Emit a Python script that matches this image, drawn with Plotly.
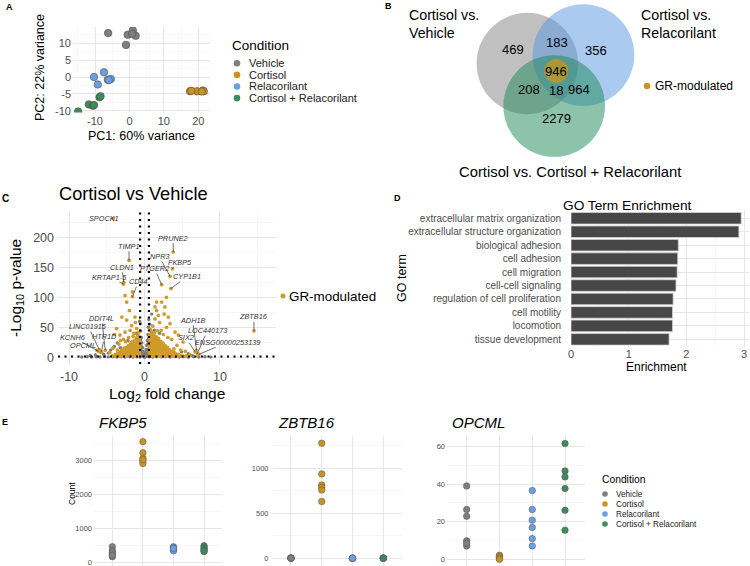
import plotly.graph_objects as go

W, H = 750, 566
FONT = "Liberation Sans"
TXT = "#4D4D4D"
GRID = "#E6E6E6"
GRID_MINOR = "#F1F1F1"

# ---------------- DATA ----------------
conditions = ["Vehicle", "Cortisol", "Relacorilant", "Cortisol + Relacorilant"]
cond_colors = ["#7F7F7F", "#C99324", "#6A9FE0", "#3F8A5C"]

# Panel A - PCA
pc1_vehicle = [-6.2, -0.5, 1.0, 1.8, -1.0, 0.8]
pc2_vehicle = [13.0, 12.5, 13.8, 12.2, 9.5, 12.8]
pc1_cortisol = [17.6, 19.6, 21.3, 21.6, 18.0, 21.0]
pc2_cortisol = [-4.2, -4.2, -4.0, -4.2, -4.1, -4.3]
pc1_rela = [-7.4, -10.3, -9.2, -6.3, -5.4, -6.0]
pc2_rela = [1.4, 0.0, -2.2, -0.8, -0.6, -0.9]
pc1_combo = [-14.9, -11.8, -10.6, -10.3, -8.7, -8.4]
pc2_combo = [-10.2, -8.1, -8.5, -8.3, -6.0, -5.7]

# Panel B - Venn counts
venn_counts = [469, 183, 356, 946, 208, 18, 964, 2279]
venn_sets = ["Cortisol vs.<br>Vehicle", "Cortisol vs.<br>Relacorilant",
             "Cortisol vs. Cortisol + Relacorilant"]

# Panel C - volcano (log2 fold change, -log10 p)
gene_names = ["SPOCK1", "PRUNE2", "TIMP1", "NPR3", "FKBP5", "CLDN1", "KRTAP1-5", "CD44",
              "PTGER2", "CYP1B1", "ZBTB16", "ADH1B", "LOC440173", "SIX2",
              "ENSG00000253139", "DDIT4L", "LINC01915", "KCNH6", "HTR1D", "OPCML"]
gene_lfc = [-4.13, 3.8, -2.05, 3.38, 3.69, -2.75, -2.8, -1.6, 2.27, 3.5, 14.5, 6.9,
            7.0, 6.7, 7.2, -5.2, -6.0, -6.3, -5.7, -6.1]
gene_logp = [231, 175.5, 161.7, 135, 147.8, 125, 122, 101, 121, 114.5, 43.9, 11.7,
             6, 9, 5, 11.7, 12.8, 11.7, 9, 10]

gr_points = [
    (-0.64, 2.0), (-0.66, 5.5), (-0.65, 9.1), (-0.67, 12.4), (-0.64, 16.0), (-0.68, 19.6), (-0.66, 23.1), (-0.69, 27.0), (-0.71, 31.2), (-0.73, 35.0),
    (-0.88, 1.8), (-0.91, 4.7), (-0.89, 8.2), (-0.93, 11.6), (-0.9, 15.1), (-0.94, 18.8), (-0.92, 22.3), (-0.95, 26.1), (-0.97, 29.7),
    (-1.18, 2.3), (-1.21, 6.0), (-1.19, 9.4), (-1.23, 13.1), (-1.2, 16.6), (-1.24, 20.2), (-1.22, 24.4), (-1.27, 28.1),
    (-1.48, 1.6), (-1.51, 5.2), (-1.49, 8.8), (-1.53, 12.3), (-1.5, 15.8), (-1.54, 19.4), (-1.52, 23.0), (-1.56, 26.4),
    (-1.78, 2.5), (-1.81, 6.1), (-1.79, 9.6), (-1.83, 13.2), (-1.8, 16.8), (-1.84, 20.1), (-1.86, 24.2),
    (-2.08, 1.9), (-2.11, 5.5), (-2.09, 9.1), (-2.13, 12.6), (-2.1, 16.2), (-2.14, 19.5),
    (-2.38, 2.2), (-2.41, 5.8), (-2.39, 9.3), (-2.43, 12.9), (-2.4, 16.4),
    (-2.68, 1.7), (-2.71, 5.1), (-2.69, 8.7), (-2.73, 12.2), (-2.72, 15.3),
    (-2.98, 2.4), (-3.01, 6.0), (-2.99, 9.5), (-3.03, 12.1),
    (-3.28, 1.9), (-3.31, 5.4), (-3.29, 8.6),
    (-3.58, 2.6), (-3.61, 6.2), (-3.88, 1.8), (-3.91, 4.5), (-4.25, 2.5),
    (-2.58, 103), (-2.36, 92), (-1.6, 109), (-3.0, 67), (-2.36, 62), (-1.26, 67), (-1.7, 53),
    (-3.7, 48), (-4.0, 38), (-3.25, 37), (-2.58, 42), (-1.03, 48), (-1.4, 40), (-2.1, 33),
    (-0.9, 37), (-1.9, 45), (-2.8, 30), (-3.4, 22), (-4.2, 15), (-4.6, 8), (-2.0, 78),
    (-1.2, 58), (-3.2, 28), (-0.75, 42), (-1.5, 35), (-2.5, 26), (-3.6, 12), (-1.1, 32),
    (0.64, 2.0), (0.66, 5.4), (0.65, 8.9), (0.67, 12.5), (0.64, 16.0), (0.68, 19.6), (0.66, 23.2), (0.69, 27.0), (0.67, 30.8), (0.7, 34.5), (0.72, 38.1),
    (0.88, 1.7), (0.91, 5.1), (0.89, 8.6), (0.93, 12.1), (0.9, 15.6), (0.94, 19.2), (0.92, 22.8), (0.95, 26.3), (0.93, 29.9), (0.96, 33.6), (0.98, 37.0),
    (1.18, 2.3), (1.21, 5.9), (1.19, 9.5), (1.23, 13.0), (1.2, 16.6), (1.24, 20.2), (1.22, 23.7), (1.25, 27.4), (1.23, 31.0), (1.27, 35.0),
    (1.48, 1.9), (1.51, 5.6), (1.49, 9.2), (1.53, 12.8), (1.5, 16.3), (1.54, 19.9), (1.52, 23.5), (1.55, 27.1), (1.53, 30.5), (1.57, 34.2),
    (1.78, 2.4), (1.81, 6.0), (1.79, 9.6), (1.83, 13.1), (1.8, 16.7), (1.84, 20.3), (1.82, 23.8), (1.85, 27.5), (1.87, 31.0),
    (2.08, 1.8), (2.11, 5.3), (2.09, 8.9), (2.13, 12.4), (2.1, 16.0), (2.14, 19.6), (2.12, 23.1), (2.16, 26.5),
    (2.38, 2.1), (2.41, 5.7), (2.39, 9.3), (2.43, 12.9), (2.4, 16.4), (2.44, 20.0), (2.46, 23.5),
    (2.68, 1.6), (2.71, 5.2), (2.69, 8.8), (2.73, 12.3), (2.7, 15.9), (2.74, 19.3),
    (2.98, 2.2), (3.01, 5.8), (2.99, 9.4), (3.03, 12.9), (3.05, 16.3),
    (3.28, 1.9), (3.31, 5.5), (3.29, 9.0), (3.33, 12.5),
    (3.58, 2.5), (3.61, 6.0), (3.63, 9.6), (3.88, 1.8), (3.91, 5.3), (3.93, 8.4),
    (4.18, 2.3), (4.21, 5.6), (4.48, 1.7), (4.52, 4.4), (4.8, 2.4), (5.1, 1.8), (5.5, 2.2),
    (1.39, 84), (1.6, 78), (2.28, 92), (2.7, 84), (1.83, 70), (3.15, 67), (3.38, 56), (1.39, 64),
    (4.04, 42), (4.48, 37), (5.1, 25.5), (2.2, 45), (2.9, 50), (1.1, 52), (3.6, 30), (4.3, 20),
    (1.7, 44), (2.5, 38), (0.8, 46), (3.9, 14), (5.4, 10), (6.0, 4), (4.8, 12), (2.0, 58),
    (2.9, 100), (1.6, 92), (2.6, 72), (3.1, 33), (1.3, 40), (0.95, 42),
]
ns_points = [
    (0.0, 0.2), (-0.05, 1.5), (0.08, 3.0), (-0.12, 5.0), (0.15, 7.5), (-0.2, 10.0), (0.22, 13.0),
    (-0.28, 16.0), (0.3, 20.0), (-0.35, 24.0), (0.38, 28.0), (-0.42, 33.0), (0.45, 38.0),
    (-0.5, 44.0), (0.52, 50.0), (-0.55, 56.0), (0.57, 63.0), (-0.3, 4.0), (0.3, 5.0), (-0.45, 8.0),
    (0.45, 9.0), (-0.55, 12.0), (0.56, 14.0), (-0.1, 2.0), (0.1, 1.0), (0.2, 3.0), (-0.25, 2.5),
    (0.35, 2.0), (-0.4, 18), (0.48, 24), (-0.52, 29), (0.5, 31),
    (-8.3, 0.4), (-7.6, 0.9), (-7.0, 0.3), (-6.4, 0.8), (-5.9, 0.5), (-5.3, 1.1), (-4.8, 0.6),
    (-4.2, 0.9), (-3.7, 0.4), (-3.1, 1.0), (-2.6, 0.5), (-2.0, 0.8), (-1.5, 0.3), (-1.0, 0.9),
    (-0.6, 0.5), (0.6, 0.7), (1.1, 0.4), (1.6, 1.0), (2.2, 0.6), (2.8, 0.9), (3.4, 0.3), (4.0, 0.8),
    (4.6, 0.5), (5.2, 1.0), (5.8, 0.4), (6.5, 0.8), (7.2, 0.5), (8.0, 0.9), (8.8, 0.3),
    (-4.5, 12), (-4.0, 18), (-3.6, 24), (-4.8, 7), (-5.4, 5), (-3.2, 16), (0.7, 55), (-0.65, 60),
    (0.95, 72), (1.3, 45), (-1.1, 40), (5.8, 6), (6.3, 3), (4.9, 9), (-6.5, 4), (-7.2, 3),
    (-5.8, 8), (2.0, 40), (-2.2, 28),
]
lfc_cutoff = 0.585
p_cutoff = 1.3

# Panel D - GO enrichment
go_terms = ["extracellular matrix organization", "extracellular structure organization",
            "biological adhesion", "cell adhesion", "cell migration", "cell-cell signaling",
            "regulation of cell proliferation", "cell motility", "locomotion", "tissue development"]
go_enrichment = [2.95, 2.91, 1.86, 1.85, 1.84, 1.82, 1.77, 1.76, 1.76, 1.70]

# Panel E - counts per condition
fkbp5_vehicle = [472, 354, 256, 177, 300, 220]
fkbp5_cortisol = [3560, 3235, 3070, 2990, 2920, 3030]
fkbp5_rela = [470, 440, 400, 370, 350, 420]
fkbp5_combo = [500, 460, 420, 380, 330, 350]
zbtb16_vehicle = [2, 1, 3, 0, 1, 2]
zbtb16_cortisol = [1278, 937, 815, 789, 759, 630]
zbtb16_rela = [1, 0, 2, 1, 0, 1]
zbtb16_combo = [3, 2, 1, 2, 0, 1]
opcml_vehicle = [39.1, 26.5, 22.9, 9.8, 7.1, 8.5]
opcml_cortisol = [2.1, 1.2, 0.3, 1.6, 0.8, 0.0]
opcml_rela = [36.6, 26.5, 20.8, 16.9, 11.0, 7.1]
opcml_combo = [61.7, 47.1, 43.9, 37.7, 26.1, 15.5]

# ---------------- HELPERS ----------------
def px(x):
    return x / W


def py(y):
    return 1 - y / H


def dom_x(a, b):
    return [px(a), px(b)]


def dom_y(top, bottom):
    return [py(bottom), py(top)]


def txt(s, x, y, size, color="black", xanchor="center", yanchor="middle", angle=0, **kw):
    return dict(text=s, x=px(x), y=py(y), xref="paper", yref="paper", showarrow=False,
                font=dict(size=size, color=color, family=FONT), xanchor=xanchor,
                yanchor=yanchor, textangle=angle, borderpad=0, **kw)


def circle(cx, cy, r, fill, line="rgba(0,0,0,0)", lw=0, opacity=1.0):
    return dict(type="circle", xref="paper", yref="paper", x0=px(cx - r), x1=px(cx + r),
                y0=py(cy + r), y1=py(cy - r), fillcolor=fill, opacity=opacity,
                line=dict(color=line, width=lw))


def axis(domain, rng, major=None, ticktext=None, minor=None, size=11, show=True, anchor=None, **kw):
    d = dict(domain=domain, range=rng, showgrid=True, gridcolor=GRID, gridwidth=1,
             zeroline=False, showline=False, ticks="", automargin=False, fixedrange=True,
             tickfont=dict(size=size, color=TXT, family=FONT), showticklabels=show,
             ticklabeloverflow="allow")
    if major is not None:
        d["tickmode"] = "array"
        d["tickvals"] = major
        d["ticktext"] = ticktext if ticktext is not None else [str(v) for v in major]
    if minor is not None:
        d["minor"] = dict(tickmode="array", tickvals=minor, showgrid=True,
                          gridcolor=GRID_MINOR, gridwidth=0.6)
    if anchor:
        d["anchor"] = anchor
    d.update(kw)
    return d


fig = go.Figure()
shapes = []
annotations = []

# ---------------- PANEL A ----------------
pca_x = [pc1_vehicle, pc1_cortisol, pc1_rela, pc1_combo]
pca_y = [pc2_vehicle, pc2_cortisol, pc2_rela, pc2_combo]
for xs, ys, col in zip(pca_x, pca_y, cond_colors):
    fig.add_trace(go.Scatter(x=xs, y=ys, mode="markers", xaxis="x", yaxis="y",
                             marker=dict(size=7.5, color=col, line=dict(color="#4D4D4D", width=0.6))))

annotations.append(txt("<b>A</b>", 9, 7, 9))
annotations.append(txt("PC2: 22% variance", 40, 68, 12.5, angle=-90))
annotations.append(txt("PC1: 60% variance", 141, 136, 12.5))
annotations.append(txt("Condition", 231, 45, 13.5, xanchor="left"))
for i, (name, col) in enumerate(zip(conditions, cond_colors)):
    yy = 63.3 + i * 11.6
    shapes.append(circle(237, yy, 3.3, col))
    annotations.append(txt(name, 248, yy, 11, color="#222", xanchor="left"))

# ---------------- PANEL B (Venn) ----------------
shapes.append(circle(527.3, 63.5, 50.7, "rgb(129,129,129)", opacity=0.5))
shapes.append(circle(583.5, 55, 50.8, "rgb(85,149,225)", opacity=0.5))
shapes.append(circle(554.2, 106, 50.8, "rgb(25,135,85)", opacity=0.5))
shapes.append(circle(556.3, 71, 12, "#C8961E", opacity=0.75))
venn_pos = [(513, 50), (557, 43), (596, 51), (556, 71), (529, 89), (556, 90), (579, 89), (556, 118)]
for c, (vx, vy) in zip(venn_counts, venn_pos):
    annotations.append(txt(str(c), vx, vy, 13))
annotations.append(txt("<b>B</b>", 388, 6, 9))
annotations.append(txt(venn_sets[0], 408, 24, 14.2, xanchor="left", align="left"))
annotations.append(txt(venn_sets[1], 640, 24, 14.2, xanchor="left", align="left"))
annotations.append(txt(venn_sets[2], 570, 172, 14.8))
shapes.append(circle(647, 86, 3.2, "#C8961E"))
annotations.append(txt("GR-modulated", 654, 86, 12, xanchor="left"))

# ---------------- PANEL C (volcano) ----------------
GOLD = "#CF9B2B"
fig.add_trace(go.Scatter(x=[p[0] for p in ns_points], y=[p[1] for p in ns_points],
                         mode="markers", xaxis="x2", yaxis="y2",
                         marker=dict(size=3.4, color="#7A7A7A")))
fig.add_trace(go.Scatter(x=[p[0] for p in gr_points] + gene_lfc,
                         y=[p[1] for p in gr_points] + gene_logp,
                         mode="markers", xaxis="x2", yaxis="y2",
                         marker=dict(size=3.7, color=GOLD)))

label_offsets = {
    "SPOCK1": (-9, 0), "PRUNE2": (0, -14), "TIMP1": (0, -14), "NPR3": (-11, -20),
    "FKBP5": (8, -6), "CLDN1": (-2, -15), "KRTAP1-5": (-14, -7), "CD44": (6, -15),
    "PTGER2": (-7, -16), "CYP1B1": (16, -12), "ZBTB16": (0, -14), "ADH1B": (-4, -30),
    "LOC440173": (10, -23), "SIX2": (-9, -14), "ENSG00000253139": (29, -12),
    "DDIT4L": (-3.5, -32), "LINC01915": (-11, -23), "KCNH6": (-24, -13), "HTR1D": (3, -15),
    "OPCML": (-15, -6),
}
for g, xv, yv in zip(gene_names, gene_lfc, gene_logp):
    ax_, ay_ = label_offsets[g]
    annotations.append(dict(text="<i>%s</i>" % g, x=xv, y=yv, xref="x2", yref="y2",
                            ax=ax_, ay=ay_, showarrow=True, arrowhead=0, arrowwidth=0.7,
                            arrowcolor="#333", standoff=0, startstandoff=0, borderpad=0,
                            font=dict(size=7.3, color="#333", family=FONT)))

for xv in (-lfc_cutoff, lfc_cutoff):
    shapes.append(dict(type="line", xref="x2", yref="y2 domain", x0=xv, x1=xv, y0=0, y1=1,
                       line=dict(color="black", width=2.2, dash="2px,4.5px")))
shapes.append(dict(type="line", xref="x2 domain", yref="y2", x0=0, x1=1, y0=p_cutoff, y1=p_cutoff,
                   line=dict(color="black", width=2.2, dash="2px,4.5px")))

annotations.append(txt("<b>C</b>", 5, 198, 10))
annotations.append(txt("Cortisol vs Vehicle", 58, 194, 18.2, xanchor="left"))
annotations.append(txt("-Log<sub>10</sub> p-value", 16, 288, 15.5, angle=-90))
annotations.append(txt("Log<sub>2</sub> fold change", 167, 394, 15.5))
shapes.append(circle(283, 296, 2.5, GOLD))
annotations.append(txt("GR-modulated", 288, 296, 13.4, xanchor="left"))

# ---------------- PANEL D (GO) ----------------
fig.add_trace(go.Bar(x=go_enrichment, y=go_terms, orientation="h", xaxis="x3", yaxis="y3",
                     width=0.86, marker=dict(color="#474747", line=dict(color="#D4D4D4", width=0.8))))
annotations.append(txt("<b>D</b>", 397, 198, 9))
annotations.append(txt("GO Term Enrichment", 626.5, 206, 13.7))
annotations.append(txt("GO term", 402, 278, 12.5, angle=-90))
annotations.append(txt("Enrichment", 656, 367, 12))

# ---------------- PANEL E ----------------
e_sets = [
    ([fkbp5_vehicle, fkbp5_cortisol, fkbp5_rela, fkbp5_combo], "x4", "y4"),
    ([zbtb16_vehicle, zbtb16_cortisol, zbtb16_rela, zbtb16_combo], "x5", "y5"),
    ([opcml_vehicle, opcml_cortisol, opcml_rela, opcml_combo], "x6", "y6"),
]
for groups, xa, ya in e_sets:
    for cond, vals, col in zip(conditions, groups, cond_colors):
        fig.add_trace(go.Scatter(x=[cond] * len(vals), y=vals, mode="markers", xaxis=xa, yaxis=ya,
                                 marker=dict(size=6.5, color=col, line=dict(color="#555", width=0.5))))

annotations.append(txt("<b>E</b>", 5, 422, 9))
annotations.append(txt("<i>FKBP5</i>", 98, 422, 15, xanchor="left"))
annotations.append(txt("<i>ZBTB16</i>", 277, 422, 15, xanchor="left"))
annotations.append(txt("<i>OPCML</i>", 451, 422, 15, xanchor="left"))
annotations.append(txt("Count", 72, 494, 8.5, angle=-90))
annotations.append(txt("Condition", 601, 479, 10.3, xanchor="left"))
for i, (name, col) in enumerate(zip(conditions, cond_colors)):
    yy = 494 + i * 10
    shapes.append(circle(605, yy, 2.8, col))
    annotations.append(txt(name, 615, yy, 8.2, color="#222", xanchor="left"))

# ---------------- LAYOUT ----------------
cat_x = dict(type="category", categoryorder="array", categoryarray=conditions)
layout_axes = dict(
    xaxis=axis(dom_x(73, 210), [-16.4, 23.4], [-10, 0, 10, 20], ["-10", "0", "10", "20"],
               [-15, -5, 5, 15], size=11, anchor="y"),
    yaxis=axis(dom_y(27, 112.5), [-10.5, 14.8], [-10, -5, 0, 5, 10], ["-10", "-5", "0", "5", "10"],
               [-7.5, -2.5, 2.5, 7.5, 12.5], size=11, anchor="x", ticklabelstandoff=1),
    xaxis2=axis(dom_x(58, 276), [-11.46, 17.42], [-10, 0, 10], ["-10", "0", "10"],
                [-5, 5, 15], size=12.5, anchor="y2", ticklabelstandoff=3),
    yaxis2=axis(dom_y(212, 364), [-11.2, 242.2], [0, 50, 100, 150, 200], None,
                [25, 75, 125, 175, 225], size=12.5, anchor="x2", ticklabelstandoff=3),
    xaxis3=axis(dom_x(571, 749), [0, 3.085], [0, 1, 2, 3], None, [0.5, 1.5, 2.5, 3.5],
                size=11, anchor="y3", ticklabelstandoff=-1),
    yaxis3=axis(dom_y(210.2, 347.4), [9.6, -0.6], size=10, anchor="x3", type="category",
                categoryorder="array", categoryarray=go_terms, ticklabelstandoff=9),
    xaxis4=axis(dom_x(94, 222.4), [-0.6, 3.6], show=False, anchor="y4", **cat_x),
    yaxis4=axis(dom_y(436, 566), [-97, 3726], [0, 1000, 2000, 3000], None,
                [500, 1500, 2500, 3500], size=7.5, anchor="x4", ticklabelstandoff=1),
    xaxis5=axis(dom_x(272.5, 401.8), [-0.6, 3.6], show=False, anchor="y5", **cat_x),
    yaxis5=axis(dom_y(436, 566), [-86, 1359], [0, 500, 1000], None, [250, 750, 1250],
                size=7.5, anchor="x5", ticklabelstandoff=3),
    xaxis6=axis(dom_x(447, 584.7), [-0.6, 3.6], show=False, anchor="y6", **cat_x),
    yaxis6=axis(dom_y(436, 566), [-3.6, 65.7], [0, 20, 40, 60], None, [10, 30, 50],
                size=7.5, anchor="x6", ticklabelstandoff=1),
)

fig.update_layout(
    template="none",
    width=W, height=H, margin=dict(l=0, r=0, t=0, b=0),
    paper_bgcolor="white", plot_bgcolor="white",
    showlegend=False, font=dict(family=FONT, color="black"),
    shapes=shapes, annotations=annotations,
    **layout_axes,
)

fig.write_html("out.html", config={"displayModeBar": False, "staticPlot": True},
               post_script="document.body.style.margin='0';document.body.style.overflow='hidden';")
